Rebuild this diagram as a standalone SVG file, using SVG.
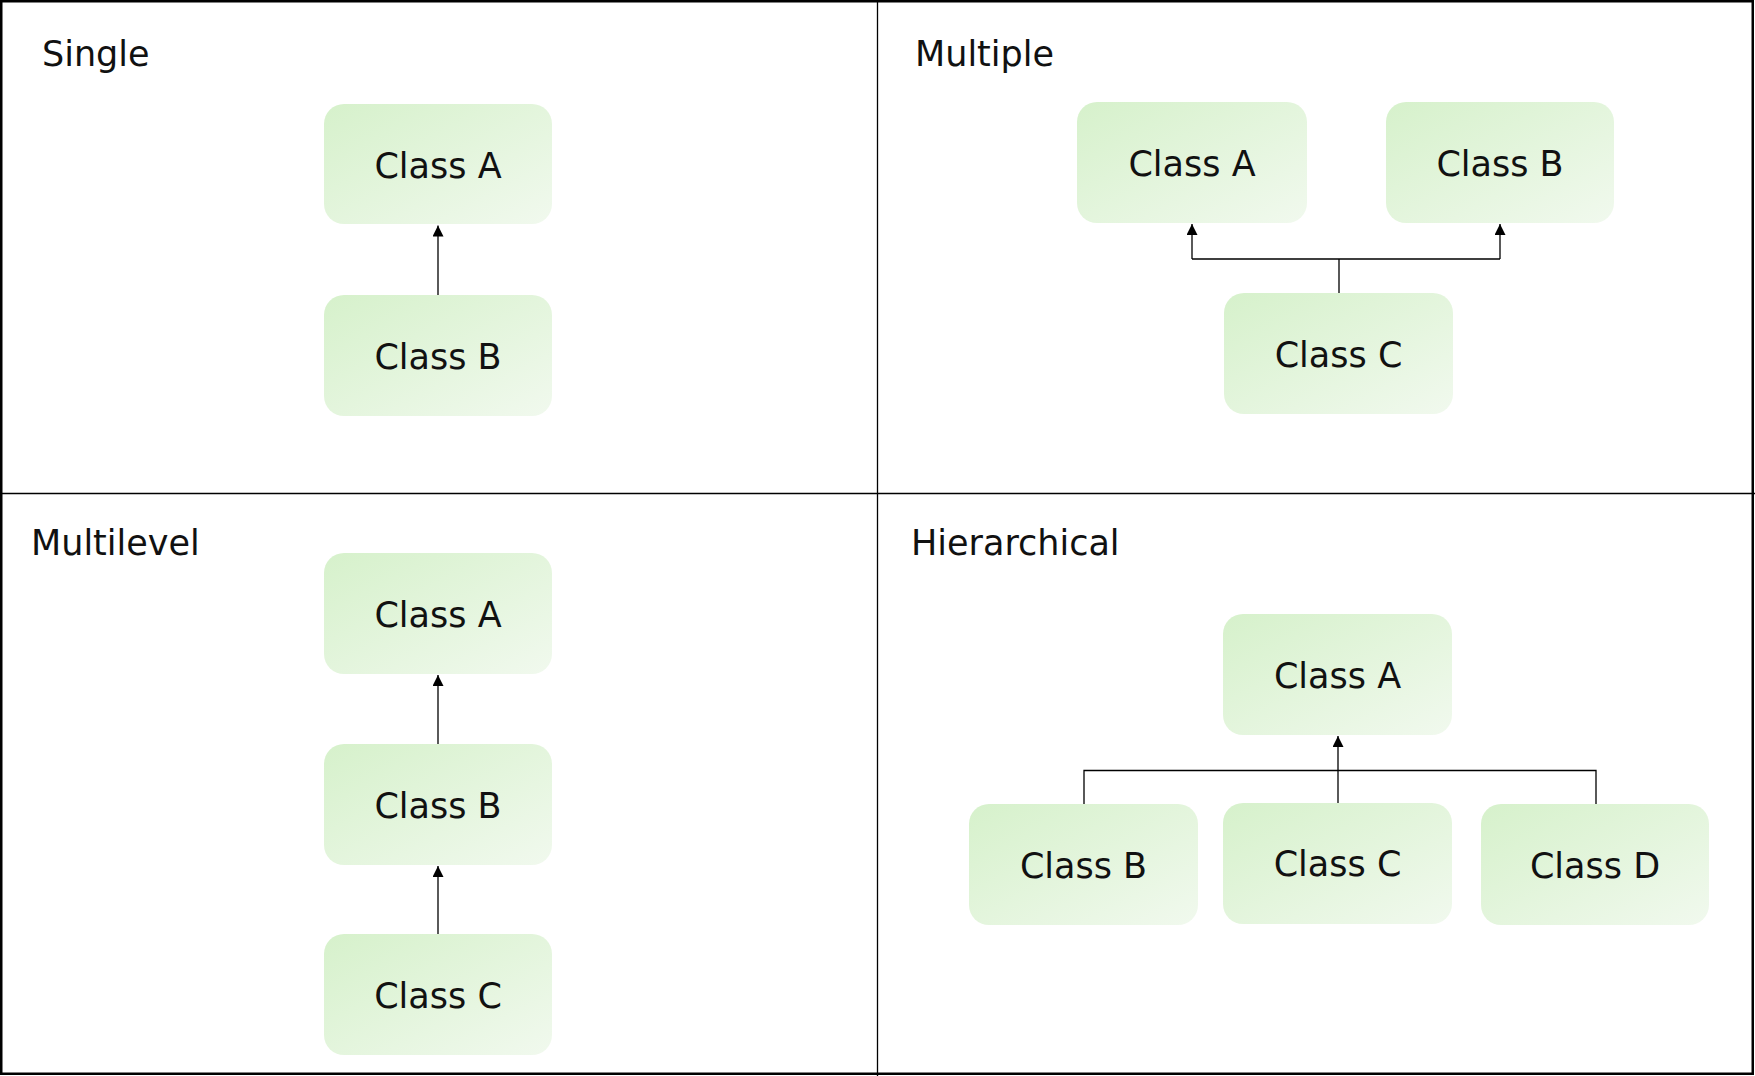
<svg xmlns="http://www.w3.org/2000/svg" width="1755" height="1076" viewBox="0 0 1755 1076">
  <defs>
    <linearGradient id="boxFill" x1="0" y1="0" x2="1" y2="1">
      <stop offset="0" stop-color="#d6f1cb"/>
      <stop offset="1" stop-color="#f1f9ee"/>
    </linearGradient>
    <marker id="arrow" markerUnits="userSpaceOnUse" markerWidth="11" markerHeight="11" refX="11" refY="5.5" orient="auto" viewBox="0 0 11 11">
      <path d="M0,0 L11,5.5 L0,11 z" fill="#000"/>
    </marker>
  </defs>
  <style>
    .box { fill: url(#boxFill); }
    .lbl { font-family: "DejaVu Sans", "Liberation Sans", sans-serif; font-size: 35px; fill: #111; text-anchor: middle; }
    .title { font-family: "DejaVu Sans", "Liberation Sans", sans-serif; font-size: 35px; fill: #111; }
    .frame { fill: none; stroke: #000; }
    .conn { fill: none; stroke: #000; stroke-width: 1.3; }
    .arr { marker-end: url(#arrow); }
  </style>
  <rect x="0" y="0" width="1755" height="1076" fill="#fff"/>
  <g id="frame">
    <rect class="frame" x="1.25" y="1.25" width="1751.5" height="1072.5" stroke-width="2.5"/>
    <line class="frame" x1="877.5" y1="0" x2="877.5" y2="1076" stroke-width="1.3"/>
    <line class="frame" x1="0" y1="493.5" x2="1755" y2="493.5" stroke-width="1.3"/>
  </g>
  <g id="titles">
    <text class="title" x="42" y="66">Single</text>
    <text class="title" x="915" y="66">Multiple</text>
    <text class="title" x="31" y="555">Multilevel</text>
    <text class="title" x="911" y="555">Hierarchical</text>
  </g>
  <g id="connectors">
    <line class="conn arr" x1="438" y1="295" x2="438" y2="225.5"/>
    <path class="conn" d="M1339,293 V259 M1192,259 H1500"/>
    <line class="conn arr" x1="1192" y1="259" x2="1192" y2="224"/>
    <line class="conn arr" x1="1500" y1="259" x2="1500" y2="224"/>
    <line class="conn arr" x1="438" y1="744" x2="438" y2="675"/>
    <line class="conn arr" x1="438" y1="934" x2="438" y2="866"/>
    <path class="conn" d="M1084,804 V770.5 H1596 V804"/>
    <line class="conn arr" x1="1338" y1="803" x2="1338" y2="736"/>
  </g>
  <g id="single-class-a">
    <rect class="box" x="324" y="104" width="228" height="120" rx="20"/>
    <text class="lbl" x="438" y="178">Class A</text>
  </g>
  <g id="single-class-b">
    <rect class="box" x="324" y="295" width="228" height="121" rx="20"/>
    <text class="lbl" x="438" y="369">Class B</text>
  </g>
  <g id="multiple-class-a">
    <rect class="box" x="1077" y="102" width="230" height="121" rx="20"/>
    <text class="lbl" x="1192" y="176">Class A</text>
  </g>
  <g id="multiple-class-b">
    <rect class="box" x="1386" y="102" width="228" height="121" rx="20"/>
    <text class="lbl" x="1500" y="176">Class B</text>
  </g>
  <g id="multiple-class-c">
    <rect class="box" x="1224" y="293" width="229" height="121" rx="20"/>
    <text class="lbl" x="1338.5" y="367">Class C</text>
  </g>
  <g id="multilevel-class-a">
    <rect class="box" x="324" y="553" width="228" height="121" rx="20"/>
    <text class="lbl" x="438" y="627">Class A</text>
  </g>
  <g id="multilevel-class-b">
    <rect class="box" x="324" y="744" width="228" height="121" rx="20"/>
    <text class="lbl" x="438" y="818">Class B</text>
  </g>
  <g id="multilevel-class-c">
    <rect class="box" x="324" y="934" width="228" height="121" rx="20"/>
    <text class="lbl" x="438" y="1008">Class C</text>
  </g>
  <g id="hierarchical-class-a">
    <rect class="box" x="1223" y="614" width="229" height="121" rx="20"/>
    <text class="lbl" x="1337.5" y="688">Class A</text>
  </g>
  <g id="hierarchical-class-b">
    <rect class="box" x="969" y="804" width="229" height="121" rx="20"/>
    <text class="lbl" x="1083.5" y="878">Class B</text>
  </g>
  <g id="hierarchical-class-c">
    <rect class="box" x="1223" y="803" width="229" height="121" rx="20"/>
    <text class="lbl" x="1337.5" y="876">Class C</text>
  </g>
  <g id="hierarchical-class-d">
    <rect class="box" x="1481" y="804" width="228" height="121" rx="20"/>
    <text class="lbl" x="1595" y="878">Class D</text>
  </g>
</svg>
